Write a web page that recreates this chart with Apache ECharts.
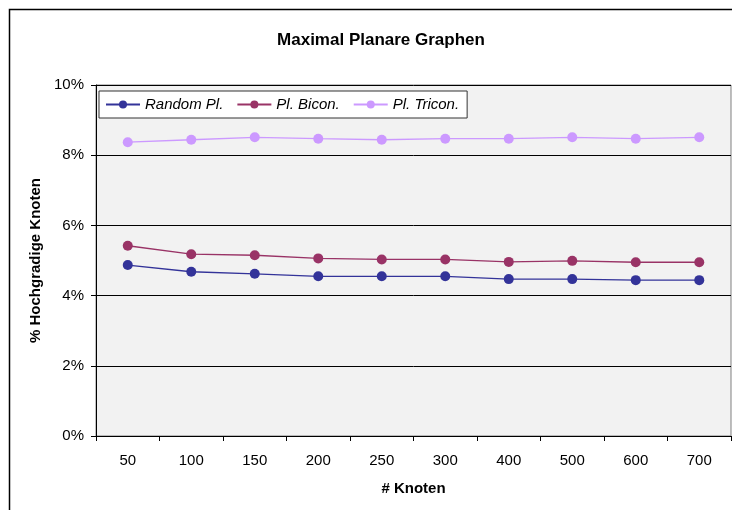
<!DOCTYPE html>
<html><head><meta charset="utf-8">
<script src="https://cdn.jsdelivr.net/npm/echarts@6/dist/echarts.min.js"></script>
<style>html,body{margin:0;padding:0;background:#fff}#c{width:732px;height:510px}</style>
</head><body><div id="c"></div>
<script>
const categories = ['50','100','150','200','250','300','400','500','600','700'];
const randomPl = [4.87,4.68,4.62,4.55,4.55,4.55,4.47,4.47,4.44,4.44];
const plBicon  = [5.42,5.18,5.15,5.06,5.03,5.03,4.96,4.99,4.95,4.95];
const plTricon = [8.37,8.44,8.51,8.47,8.44,8.47,8.47,8.51,8.47,8.51];
const seriesNames = ['Random Pl.','Pl. Bicon.','Pl. Tricon.'];
const colors = ['#333399','#993366','#CC99FF'];
const font = '"Liberation Sans", Arial, sans-serif';

const chart = echarts.init(document.getElementById('c'), null, {renderer:'canvas'});
function mk(name, data, color){
  return {name, type:'line', data, symbol:'circle', symbolSize:10,
    lineStyle:{color, width:1.3}, itemStyle:{color}, emphasis:{disabled:true}, animation:false};
}
chart.setOption({
  animation:false,
  title:{text:'Maximal Planare Graphen', left:376, top:27, textAlign:'center',
    textStyle:{fontFamily:font, fontSize:17, fontWeight:'bold', color:'#000'}},
  graphic:[{type:'rect', shape:{x:9.5,y:9.5,width:760,height:560}, style:{fill:'none', stroke:'#000', lineWidth:1.5}, z:-1}],
  legend:{left:99, top:91, width:380, padding:[6,8,6,6], itemGap:13,
    backgroundColor:'#fff', borderColor:'#333', borderWidth:1,
    itemWidth:34, itemHeight:10,
    textStyle:{fontFamily:font, fontSize:15, fontStyle:'italic', color:'#000'},
    data:seriesNames},
  grid:{left:96, right:1, top:85, bottom:74, show:true, backgroundColor:'#f2f2f2', borderColor:'#808080', borderWidth:1},
  xAxis:{type:'category', data:categories, boundaryGap:true,
    name:'# Knoten', nameLocation:'middle', nameGap:45,
    nameTextStyle:{fontFamily:font, fontSize:15, fontWeight:'bold', color:'#000'},
    axisLine:{lineStyle:{color:'#000', width:1}},
    axisTick:{show:true, length:5, alignWithLabel:false, lineStyle:{color:'#000'}},
    axisLabel:{fontFamily:font, fontSize:15, color:'#000', margin:17},
    splitLine:{show:false}},
  yAxis:{type:'value', min:0, max:10, interval:2,
    name:'% Hochgradige Knoten', nameLocation:'middle', nameGap:53,
    nameTextStyle:{fontFamily:font, fontSize:15, fontWeight:'bold', color:'#000'},
    axisLine:{show:true, lineStyle:{color:'#000', width:1}},
    axisTick:{show:true, length:5, lineStyle:{color:'#000'}},
    axisLabel:{fontFamily:font, fontSize:15, color:'#000', margin:12, formatter: v => v + '%'},
    splitLine:{show:true, lineStyle:{color:'#000', width:1}}},
  series:[mk(seriesNames[0], randomPl, colors[0]), mk(seriesNames[1], plBicon, colors[1]), mk(seriesNames[2], plTricon, colors[2])]
});
</script></body></html>
